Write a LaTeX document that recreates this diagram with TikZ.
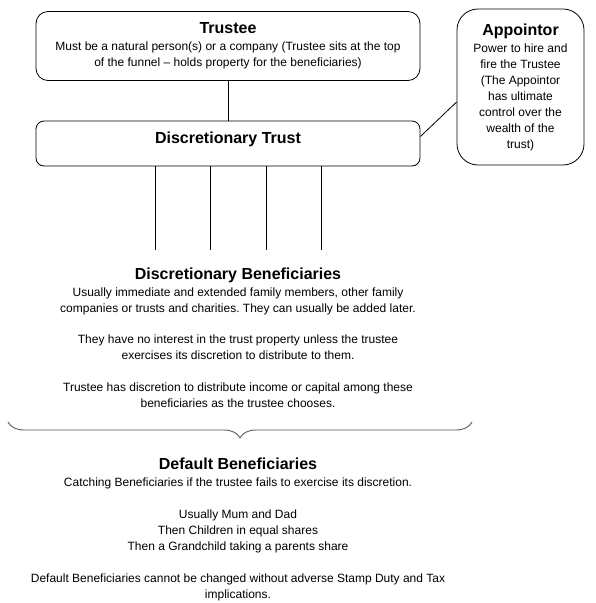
\documentclass[tikz,border=0pt]{standalone}
\usepackage{fontspec}
\setmainfont{Liberation Sans}
\usetikzlibrary{calc, positioning, decorations.pathreplacing}
\frenchspacing

\newcommand{\bodyfnt}{\fontsize{12}{16}\selectfont}
\newcommand{\headfnt}{\fontsize{16}{19}\selectfont\bfseries}

\tikzset{
  box/.style={draw, line width=0.8pt, align=center, font=\bodyfnt, inner sep=0pt},
  plain/.style={align=center, font=\bodyfnt, inner sep=0pt}
}

\begin{document}
\begin{tikzpicture}[x=1pt, y=-1pt]
 \useasboundingbox (0,0) rectangle (595,603);

 \node [box, rounded corners=12pt, minimum width=384pt, minimum height=69pt] (trustee) at (228,46)
  {{\headfnt Trustee}\\[1pt]
   Must be a natural person(s) or a company (Trustee sits at the top\\
   of the funnel -- holds property for the beneficiaries)};

 \node [box, rounded corners=8pt, minimum width=384pt, minimum height=45pt] (trust) at (228,143.5) {};
 \node [plain, font=\headfnt, below=11pt of trust.north] (trusttitle) {Discretionary Trust};

 \node [box, rounded corners=21pt, minimum width=127pt, minimum height=156pt] (appointor) at (520.5,87)
  {{\headfnt Appointor}\\[1pt]
   Power to hire and\\
   fire the Trustee\\
   (The Appointor\\
   has ultimate\\
   control over the\\
   wealth of the\\
   trust)};

 \draw [line width=0.8pt] (trustee.south) -- (trust.north);
 \draw [line width=0.8pt] ($(trust.east)+(0,-7)$) -- ($(appointor.west)+(0,15)$);

 \foreach \dx in {-73,-18,38,93}
  \draw [line width=0.8pt] ([xshift=\dx]trust.south) -- ++(0,84);

 \node [plain, anchor=north] (discben) at (238,268)
  {{\headfnt Discretionary Beneficiaries}\\[1pt]
   Usually immediate and extended family members, other family\\
   companies or trusts and charities. They can usually be added later.\\[15pt]
   They have no interest in the trust property unless the trustee\\
   exercises its discretion to distribute to them.\\[16pt]
   Trustee has discretion to distribute income or capital among these\\
   beneficiaries as the trustee chooses.};

 \draw [decorate, decoration={brace, mirror, amplitude=16pt}, line width=0.9pt, black!65]
  (8,422) -- (472,422);

 \node [plain, anchor=north] (defben) at (238,458)
  {{\headfnt Default Beneficiaries}\\[1pt]
   Catching Beneficiaries if the trustee fails to exercise its discretion.\\[16pt]
   Usually Mum and Dad\\
   Then Children in equal shares\\
   Then a Grandchild taking a parents share\\[16pt]
   Default Beneficiaries cannot be changed without adverse Stamp Duty and Tax\\
   implications.};
\end{tikzpicture}
\end{document}
